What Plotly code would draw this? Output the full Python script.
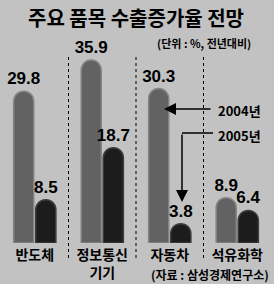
import plotly.graph_objects as go

categories = ["반도체", "정보통신<br>기기", "자동차", "석유화학"]
series_names = ["2004년", "2005년"]
values_2004 = [29.8, 35.9, 30.3, 8.9]
values_2005 = [8.5, 18.7, 3.8, 6.4]

W, H = 274, 284
L, R, T, B = 1, 3, 57, 41
plot_w = W - L - R
plot_h = H - T - B
YMAX = 36.5

def px_to_x(px):
    return (px - L) / plot_w * 4 - 0.5

def px_to_y(py):
    return (H - B - py) / plot_h * YMAX

xpos = list(range(len(categories)))
lab_font = dict(family="Liberation Sans", size=17, color="black", weight="bold")
kfont = "Noto Sans CJK KR"

fig = go.Figure()
fig.add_trace(go.Bar(
    x=xpos, y=values_2004, name=series_names[0],
    marker=dict(color="#626262", line=dict(color="#858585", width=1.5), cornerradius=10),
    texttemplate="%{y:.1f}", textposition="outside", textfont=lab_font, cliponaxis=False,
    constraintext="none",
))
fig.add_trace(go.Bar(
    x=xpos, y=values_2005, name=series_names[1],
    marker=dict(color="#1c1c1c", line=dict(color="#3c3c3c", width=1.5), cornerradius=10),
    texttemplate="%{y:.1f}", textposition="outside", textfont=lab_font, cliponaxis=False,
    constraintext="none",
))

shapes = []
for sx in [0.5, 1.5, 2.5]:
    shapes.append(dict(type="line", xref="x", yref="paper", x0=sx, x1=sx,
                       y0=-15 / plot_h, y1=1.0,
                       line=dict(color="black", width=1, dash="3px,3px")))
shapes.append(dict(type="line", xref="x", yref="y",
                   x0=px_to_x(182), x1=px_to_x(213), y0=px_to_y(133), y1=px_to_y(133),
                   line=dict(color="black", width=1.5)))

annotations = [
    dict(text="주요 품목 수출증가율 전망", xref="paper", yref="paper", x=0.5, y=1,
         xanchor="center", yanchor="middle", yshift=T - 17, showarrow=False,
         font=dict(family=kfont, size=20, color="black", weight="bold")),
    dict(text="(단위 : %, 전년대비)", xref="paper", yref="paper", x=(253 - L) / plot_w, y=1,
         xanchor="right", yanchor="middle", yshift=T - 43, showarrow=False,
         font=dict(family=kfont, size=11, color="black", weight="bold")),
    dict(text="", xref="x", yref="y", x=px_to_x(164), y=px_to_y(109),
         ax=48, ay=0, showarrow=True, arrowhead=2, arrowsize=1.6, arrowwidth=1.5,
         arrowcolor="black"),
    dict(text="2004년", xref="x", yref="y", x=px_to_x(216), y=px_to_y(110),
         xanchor="left", yanchor="middle", showarrow=False,
         font=dict(family=kfont, size=13, color="black", weight="bold")),
    dict(text="", xref="x", yref="y", x=px_to_x(182), y=px_to_y(202),
         ax=0, ay=-69, showarrow=True, arrowhead=2, arrowsize=1.6, arrowwidth=1.5,
         arrowcolor="black"),
    dict(text="2005년", xref="x", yref="y", x=px_to_x(216), y=px_to_y(135),
         xanchor="left", yanchor="middle", showarrow=False,
         font=dict(family=kfont, size=13, color="black", weight="bold")),
    dict(text="(자료 : 삼성경제연구소)", xref="paper", yref="paper", x=(271 - L) / plot_w, y=0,
         xanchor="right", yanchor="middle", yshift=-(274 - (H - B)), showarrow=False,
         font=dict(family=kfont, size=12, color="black", weight="bold")),
]

fig.update_layout(
    width=W, height=H,
    margin=dict(l=L, r=R, t=T, b=B, pad=0),
    paper_bgcolor="#c2c2c2", plot_bgcolor="#c2c2c2",
    barmode="group", bargap=0.345, bargroupgap=0.09,
    showlegend=False,
    shapes=shapes, annotations=annotations,
    xaxis=dict(range=[-0.5, 3.5], tickvals=xpos, ticktext=categories,
               showgrid=False, zeroline=False, showline=False, ticks="",
               ticklabelstandoff=2,
               tickfont=dict(family=kfont, size=14, color="black", weight="bold")),
    yaxis=dict(range=[0, YMAX], visible=False, showgrid=False),
)

fig.write_html("out.html")
